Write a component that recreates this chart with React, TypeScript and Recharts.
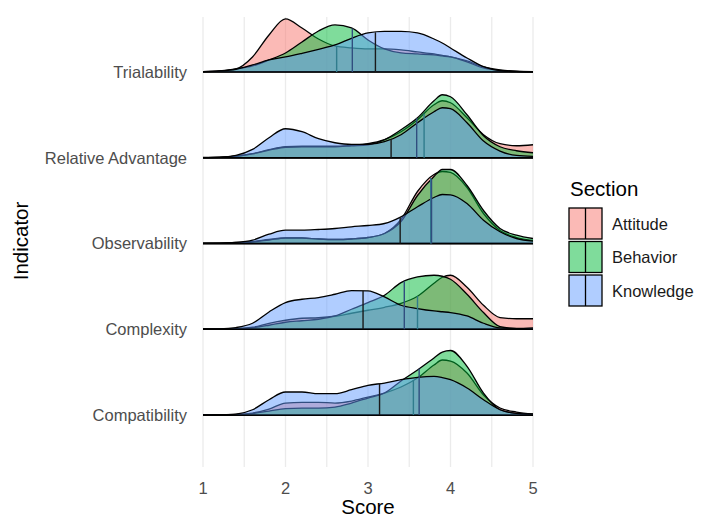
import { ComposedChart, Area, XAxis, YAxis, CartesianGrid, ReferenceLine, Label } from "recharts";

const FONT = "'Liberation Sans', Arial, sans-serif";

// score grid the ridges are sampled on
const SCORES = [1.0, 1.2, 1.4, 1.6, 1.8, 2.0, 2.2, 2.4, 2.6, 2.8, 3.0, 3.2, 3.4, 3.6, 3.8, 3.9, 4.0, 4.2, 4.4, 4.6, 4.8, 5.0];
const X_TICKS = [1, 1.5, 2, 2.5, 3, 3.5, 4, 4.5, 5];

// bottom row first
const INDICATORS = ["Compatibility", "Complexity", "Observability", "Relative Advantage", "Trialability"];
const SECTIONS = ["Attitude", "Behavior", "Knowledge"];
const SECTION_COLORS = ["#F8766D", "#00BA38", "#619CFF"];
// median lines sit under the later (semi transparent) fills, so they look tinted
const MEDIAN_COLORS = ["#307C8D", "#304E7F", "#1a1a1a"];

// scaled densities (ridge height units), same order as SCORES
const COMPAT_ATT = [0.1, 0.2, 0.7, 2, 6, 12, 12.7, 12.7, 12, 14, 18, 22, 28, 37, 50, 55, 54, 42, 20, 7, 3, 1];
const COMPAT_BEH = [0.1, 0.2, 0.5, 1.5, 4, 6.5, 7, 7, 8, 12, 17, 22, 34, 45, 57, 63, 64.5, 48.7, 22, 5.3, 1.5, 0.5];
const COMPAT_KNOW = [0.2, 0.4, 1, 5.3, 15.3, 23, 23, 21.3, 21.3, 25.3, 29.7, 32, 35.3, 37.7, 38.7, 37.5, 35.3, 27, 15.3, 5.3, 1.7, 1];

const COMPLEX_ATT = [0.1, 0.2, 0.5, 2, 6, 9, 11, 11.5, 13, 16, 19, 22, 26, 33, 46, 52, 54, 42, 24, 11.7, 10.5, 10.5];
const COMPLEX_BEH = [0.1, 0.2, 0.5, 1.5, 4, 7, 8.5, 10, 13.3, 20, 26.7, 34, 46.7, 52.3, 54, 53, 50, 35, 16.7, 2.7, 0.8, 0.5];
const COMPLEX_KNOW = [0.2, 0.4, 1.7, 6, 17.3, 26.7, 30, 31.7, 35, 38.7, 38.3, 32.3, 24, 20.7, 18.3, 17.5, 16.7, 13.3, 6, 1.3, 0.7, 1.3];

const OBS_ATT = [0.1, 0.2, 1, 2, 4, 5.5, 5.5, 4.5, 4, 4.5, 6, 10, 24, 52, 69, 72, 71, 56, 30, 13, 6, 3];
const OBS_BEH = [0.1, 0.2, 0.8, 1.5, 3.5, 5.5, 5.5, 4.5, 4, 4.5, 6, 10, 22, 48, 67, 74, 74, 58, 33, 15, 8.3, 5];
const OBS_KNOW = [0.2, 0.3, 1, 3.3, 9.3, 13.3, 13.3, 14, 15, 16.7, 18, 20, 26.7, 36.7, 46, 49, 48.7, 40, 23.3, 11.7, 5, 2.3];

const RA_ATT = [0.2, 0.4, 1.5, 4, 8, 11, 11.5, 11.5, 11.5, 12.5, 14, 18, 26, 38, 53, 57, 55, 40, 23, 14, 12, 13];
const RA_BEH = [0.2, 0.4, 1.5, 4, 7.5, 10.5, 11, 11, 11, 12, 13, 18, 28, 40, 57, 63, 61, 43, 22, 11, 7, 5];
const RA_KNOW = [0.3, 0.5, 2.3, 8.3, 20, 29, 26, 19, 15, 13.3, 13.3, 16, 23, 35, 46, 50, 49, 35, 16.7, 6.7, 2.3, 1.3];

const TRIAL_ATT = [0.3, 0.8, 3, 15, 37, 53, 44, 33, 26, 24, 23, 23, 22, 20, 18, 16.5, 15, 11, 5, 2, 0.7, 0.3];
const TRIAL_BEH = [0.3, 1, 3, 6, 12, 19, 30, 41, 47, 44, 32, 23, 19, 18, 17, 16, 15, 10, 4, 1.5, 0.5, 0.2];
const TRIAL_KNOW = [0.3, 1, 2.7, 7, 12, 15, 18.7, 22.7, 27, 33.7, 39, 40.5, 40.5, 39, 33, 29, 24, 14, 5.3, 1.3, 0.4, 0.2];

// medians (Attitude, Behavior, Knowledge)
const COMPAT_MED = [3.55, 3.62, 3.14];
const COMPLEX_MED = [3.6, 3.44, 2.94];
const OBS_MED = [3.76, 3.77, 3.39];
const RA_MED = [3.68, 3.59, 3.28];
const TRIAL_MED = [2.62, 2.81, 3.09];

const DENSITIES = [
  [COMPAT_ATT, COMPAT_BEH, COMPAT_KNOW],
  [COMPLEX_ATT, COMPLEX_BEH, COMPLEX_KNOW],
  [OBS_ATT, OBS_BEH, OBS_KNOW],
  [RA_ATT, RA_BEH, RA_KNOW],
  [TRIAL_ATT, TRIAL_BEH, TRIAL_KNOW],
];
const MEDIANS = [COMPAT_MED, COMPLEX_MED, OBS_MED, RA_MED, TRIAL_MED];

const RIDGE_SCALE = 1 / 85.75;

const seriesKey = (i: number, s: number) => `r${i}s${s}`;

const chartData = SCORES.map((score, k) => {
  const row: Record<string, unknown> = { score };
  INDICATORS.forEach((_, i) => {
    SECTIONS.forEach((_, s) => {
      const base = i + 1;
      row[seriesKey(i, s)] = [base, base + DENSITIES[i][s][k] * RIDGE_SCALE];
    });
  });
  return row;
});

function heightAt(values: number[], x: number): number {
  for (let k = 0; k < SCORES.length - 1; k++) {
    if (x >= SCORES[k] && x <= SCORES[k + 1]) {
      const t = (x - SCORES[k]) / (SCORES[k + 1] - SCORES[k]);
      return values[k] + (values[k + 1] - values[k]) * t;
    }
  }
  return 0;
}

// top row drawn first
const ROW_ORDER = [4, 3, 2, 1, 0];

function Legend() {
  return (
    <svg width={142} height={150} style={{ position: "absolute", left: 560, top: 170 }}>
      <text x={10} y={26} fontSize={20.5} fontFamily={FONT} fill="#000">
        Section
      </text>
      {SECTIONS.map((name, s) => {
        const y = 38 + s * 33.5;
        return (
          <g key={name}>
            <rect x={9} y={y} width={33} height={31} fill={SECTION_COLORS[s]} fillOpacity={0.5} stroke="#000" strokeWidth={1.3} />
            <line x1={25.5} x2={25.5} y1={y} y2={y + 31} stroke="#000" strokeWidth={1.3} />
            <text x={52} y={y + 15.5} dominantBaseline="central" fontSize={16.5} fontFamily={FONT} fill="#1a1a1a">
              {name}
            </text>
          </g>
        );
      })}
    </svg>
  );
}

export default function App() {
  return (
    <div style={{ position: "absolute", left: 0, top: 0, width: 702, height: 518, background: "#fff" }}>
      <ComposedChart width={702} height={518} data={chartData} margin={{ top: 17, right: 169, bottom: 0, left: 0 }}>
        <CartesianGrid horizontal={false} stroke="#ebebeb" strokeWidth={1.3} />
        <XAxis
          dataKey="score"
          type="number"
          domain={[1, 5]}
          allowDataOverflow
          ticks={X_TICKS}
          interval={0}
          tickFormatter={(v: number) => (Number.isInteger(v) ? String(v) : "")}
          axisLine={false}
          tickLine={false}
          tickSize={0}
          tickMargin={15}
          height={51}
          tick={{ fill: "#4d4d4d", fontSize: 16.5, fontFamily: FONT }}
        >
          <Label value="Score" position="insideBottom" offset={4} style={{ fontSize: 20.5, fill: "#000", fontFamily: FONT }} />
        </XAxis>
        <YAxis
          type="number"
          domain={[0.394, 5.641]}
          allowDataOverflow
          ticks={[1, 2, 3, 4, 5]}
          interval={0}
          tickFormatter={(v: number) => INDICATORS[v - 1] ?? ""}
          axisLine={false}
          tickLine={false}
          tickSize={0}
          tickMargin={16}
          width={203}
          tick={{ fill: "#4d4d4d", fontSize: 16.5, fontFamily: FONT }}
        />
        {ROW_ORDER.map((i) =>
          SECTIONS.map((name, s) => (
            <Area
              key={seriesKey(i, s)}
              dataKey={seriesKey(i, s)}
              name={name}
              type="monotone"
              stroke="#000"
              strokeWidth={1.3}
              fill={SECTION_COLORS[s]}
              fillOpacity={0.5}
              dot={false}
              activeDot={false}
              isAnimationActive={false}
            />
          ))
        )}
        {ROW_ORDER.map((i) =>
          MEDIANS[i].map((m, s) => (
            <ReferenceLine
              key={`med-${i}-${s}`}
              segment={[
                { x: m, y: i + 1 },
                { x: m, y: i + 1 + heightAt(DENSITIES[i][s], m) * RIDGE_SCALE },
              ]}
              stroke={MEDIAN_COLORS[s]}
              strokeWidth={1.4}
              ifOverflow="visible"
            />
          ))
        )}
      </ComposedChart>
      <div
        style={{
          position: "absolute",
          left: 21,
          top: 241,
          transform: "translate(-50%, -50%) rotate(-90deg)",
          fontFamily: FONT,
          fontSize: 20.5,
          color: "#000",
          whiteSpace: "nowrap",
        }}
      >
        Indicator
      </div>
      <Legend />
    </div>
  );
}
